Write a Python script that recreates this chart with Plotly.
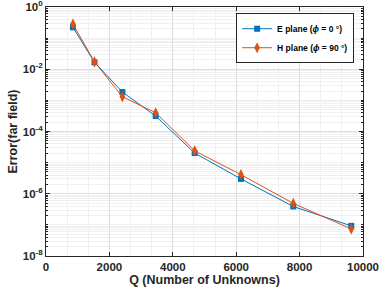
import plotly.graph_objects as go

Q = [850, 1530, 2410, 3460, 4690, 6150, 7800, 9630]
err_E = [0.222, 0.0167, 1.85e-3, 3.13e-4, 2.03e-5, 3.0e-6, 3.9e-7, 9.3e-8]
err_H = [0.284, 0.0172, 1.31e-3, 4.0e-4, 2.4e-5, 4.1e-6, 4.9e-7, 7.4e-8]
names = ["E plane (<i>ϕ</i> = 0 °)", "H plane (<i>ϕ</i> = 90 °)"]
ytick_vals = [1, 1e-2, 1e-4, 1e-6, 1e-8]
ytick_text = ["10<sup>0</sup>", "10<sup>-2</sup>", "10<sup>-4</sup>", "10<sup>-6</sup>", "10<sup>-8</sup>"]
xtick_vals = [0, 2000, 4000, 6000, 8000, 10000]

font = dict(family="Liberation Sans, Arial, sans-serif", size=11.5, color="#262626")

fig = go.Figure()
fig.add_trace(go.Scatter(x=Q, y=err_E, mode="lines+markers", name=f"<b>{names[0]}</b>",
                         line=dict(color="#0072BD", width=1),
                         marker=dict(symbol="square", size=6, color="#0072BD")))
fig.add_trace(go.Scatter(x=Q, y=err_H, mode="lines+markers", name=f"<b>{names[1]}</b>",
                         line=dict(color="#D95319", width=1),
                         marker=dict(symbol="diamond-tall", size=8, color="#D95319")))

fig.update_layout(
    width=382, height=293,
    margin=dict(l=46, r=19, t=7, b=37),
    paper_bgcolor="white", plot_bgcolor="white",
    font=font,
    legend=dict(x=0.972, y=0.975, xanchor="right", yanchor="top",
                bgcolor="white", bordercolor="#262626", borderwidth=1,
                font=dict(family="Liberation Sans, Arial, sans-serif", size=8.5, color="#000000"),
                tracegroupgap=0, itemwidth=30),
    showlegend=True,
)
fig.update_xaxes(range=[0, 10000], tickvals=xtick_vals, ticktext=[f"<b>{v}</b>" for v in xtick_vals],
                 automargin=False, ticklabeloverflow="allow",
                 showline=True, linecolor="#262626", linewidth=1, mirror="allticks",
                 ticks="inside", ticklen=4, tickcolor="#262626",
                 showgrid=True, gridcolor="#dedede", gridwidth=1, zeroline=False,
                 minor=dict(dtick=2000/3, showgrid=True, gridcolor="#f0f0f0", ticks=""),
                 title=dict(text="<b>Q (Number of Unknowns)</b>", standoff=3, font=dict(size=12.5)))
fig.update_yaxes(type="log", range=[-8, 0], tickvals=ytick_vals,
                 ticktext=[f"<b>{t}</b>" for t in ytick_text],
                 automargin=False, ticklabeloverflow="allow",
                 showline=True, linecolor="#262626", linewidth=1, mirror="allticks",
                 ticks="inside", ticklen=4, tickcolor="#262626",
                 showgrid=True, gridcolor="#dedede", gridwidth=1, zeroline=False,
                 minor=dict(dtick="D1", showgrid=True, gridcolor="#f0f0f0", ticks="inside", ticklen=2, tickcolor="#262626"),
                 title=dict(text="<b>Error(far field)</b>", standoff=2, font=dict(size=12.5)))

fig.write_html("out.html", config={"displayModeBar": False},
               post_script="document.body.style.margin='0';document.body.style.padding='0';")
